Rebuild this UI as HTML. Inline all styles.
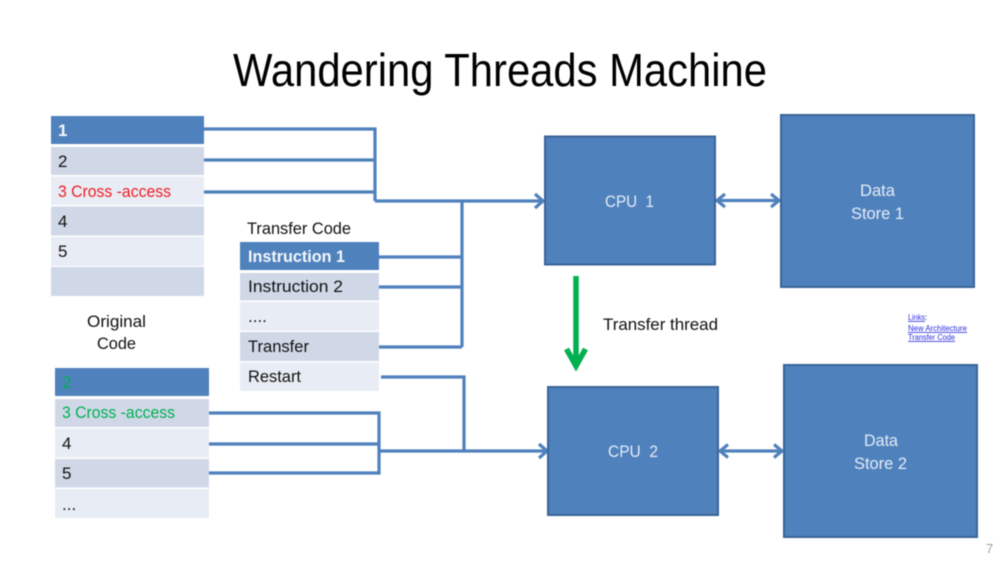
<!DOCTYPE html>
<html><head><meta charset="utf-8"><title>Wandering Threads Machine</title>
<style>
html,body{margin:0;padding:0;background:#fff;width:1000px;height:563px;overflow:hidden}
svg{display:block;filter:blur(.45px)}
text{font-family:"Liberation Sans",sans-serif;font-size:17px;fill:#111;white-space:pre}
.w{fill:#e8edf5}.m{fill:#d0d8e8}.h{fill:#4f81bd}
.b{fill:#4f81bd;stroke:#3a6496;stroke-width:2}
.c{fill:none;stroke:#4f81bd;stroke-width:3.2}
.l{fill:#e4ecf6}
.a{font-size:8px;fill:#2a2ae0;text-decoration:underline}
</style></head><body>
<svg width="1000" height="563" viewBox="0 0 1000 563" xmlns="http://www.w3.org/2000/svg">
<text x="233" y="86" textLength="534" lengthAdjust="spacingAndGlyphs" style="font-size:46px;fill:#000">Wandering Threads Machine</text>

<!-- connectors -->
<path class="c" d="M204 129H375V201M204 160H375M204 192H375M375 201H543"/>
<path class="c" d="M535 194L543 201L535 208"/>
<path class="c" d="M462 201V347M379 257H462M379 287H462M379 347H462"/>
<path class="c" d="M381 377H464V451"/>
<path class="c" d="M209 413H379V473H209M209 444H379M379 451H547"/>
<path class="c" d="M539 444L547 451L539 458"/>
<path class="c" d="M717 200.500H779M725 194L717 200.500L725 207M771 194L779 200.500L771 207"/>
<path class="c" d="M720 451H782M728 444.500L720 451L728 457.500M774 444.500L782 451L774 457.500"/>
<path d="M576 276V366M566.500 349L576 366L585.500 349" fill="none" stroke="#00b050" stroke-width="5.500"/>

<!-- table 1 -->
<rect class="h" x="51" y="116" width="153" height="28"/>
<rect class="m" x="51" y="147" width="153" height="28"/>
<rect class="w" x="51" y="176.500" width="153" height="28.500"/>
<rect class="m" x="51" y="206.500" width="153" height="29"/>
<rect class="w" x="51" y="237" width="153" height="29"/>
<rect class="m" x="51" y="267" width="153" height="29"/>
<text x="58" y="136" style="font-weight:bold;fill:#f4f7fb">1</text>
<text x="58" y="167">2</text>
<text x="58" y="197" textLength="113" lengthAdjust="spacingAndGlyphs" style="fill:#f01c24">3 Cross -access</text>
<text x="58" y="227">4</text>
<text x="58" y="257">5</text>

<text x="87" y="327" textLength="59" lengthAdjust="spacingAndGlyphs">Original</text>
<text x="97" y="349" textLength="39" lengthAdjust="spacingAndGlyphs">Code</text>

<!-- table 2 -->
<rect class="h" x="55" y="368" width="154" height="28"/>
<rect class="m" x="55" y="399" width="154" height="28"/>
<rect class="w" x="55" y="428.500" width="154" height="29"/>
<rect class="m" x="55" y="459" width="154" height="28.500"/>
<rect class="w" x="55" y="489" width="154" height="29"/>
<text x="62" y="388" style="fill:#00b050">2</text>
<text x="62" y="418" textLength="113" lengthAdjust="spacingAndGlyphs" style="fill:#00b050">3 Cross -access</text>
<text x="62" y="449">4</text>
<text x="62" y="479">5</text>
<text x="62" y="510">...</text>

<!-- table 3 -->
<text x="247" y="234" textLength="104" lengthAdjust="spacingAndGlyphs">Transfer Code</text>
<rect class="h" x="240" y="242" width="139" height="28"/>
<rect class="m" x="240" y="273" width="139" height="27.500"/>
<rect class="w" x="240" y="302" width="139" height="28.500"/>
<rect class="m" x="240" y="332" width="139" height="29"/>
<rect class="w" x="240" y="362.500" width="139" height="28.500"/>
<text x="248" y="262" textLength="97" lengthAdjust="spacingAndGlyphs" style="font-weight:bold;fill:#f4f7fb">Instruction 1</text>
<text x="248" y="292" textLength="95" lengthAdjust="spacingAndGlyphs">Instruction 2</text>
<text x="248" y="322">....</text>
<text x="248" y="352" textLength="61" lengthAdjust="spacingAndGlyphs">Transfer</text>
<text x="248" y="382" textLength="53" lengthAdjust="spacingAndGlyphs">Restart</text>

<!-- blocks -->
<rect class="b" x="545" y="136.500" width="170" height="128"/>
<rect class="b" x="781" y="115" width="193" height="172"/>
<rect class="b" x="548" y="387" width="170" height="128"/>
<rect class="b" x="784" y="365" width="193" height="172"/>
<text class="l" x="605" y="207" textLength="49" lengthAdjust="spacingAndGlyphs">CPU  1</text>
<text class="l" x="860" y="196" textLength="35" lengthAdjust="spacingAndGlyphs">Data</text>
<text class="l" x="851" y="219" textLength="53" lengthAdjust="spacingAndGlyphs">Store 1</text>
<text class="l" x="608" y="457" textLength="50" lengthAdjust="spacingAndGlyphs">CPU  2</text>
<text class="l" x="864" y="446" textLength="34" lengthAdjust="spacingAndGlyphs">Data</text>
<text class="l" x="854" y="469" textLength="53" lengthAdjust="spacingAndGlyphs">Store 2</text>

<text x="603" y="330" textLength="115" lengthAdjust="spacingAndGlyphs">Transfer thread</text>

<text class="a" x="908" y="320" textLength="17" lengthAdjust="spacingAndGlyphs">Links</text>
<text x="925" y="320" style="font-size:8px">:</text>
<text class="a" x="908" y="331" textLength="59" lengthAdjust="spacingAndGlyphs">New Architecture</text>
<text class="a" x="908" y="340" textLength="47" lengthAdjust="spacingAndGlyphs">Transfer Code</text>

<text x="986" y="553" style="font-size:13px;fill:#a0a0a0">7</text>
</svg>
</body></html>
